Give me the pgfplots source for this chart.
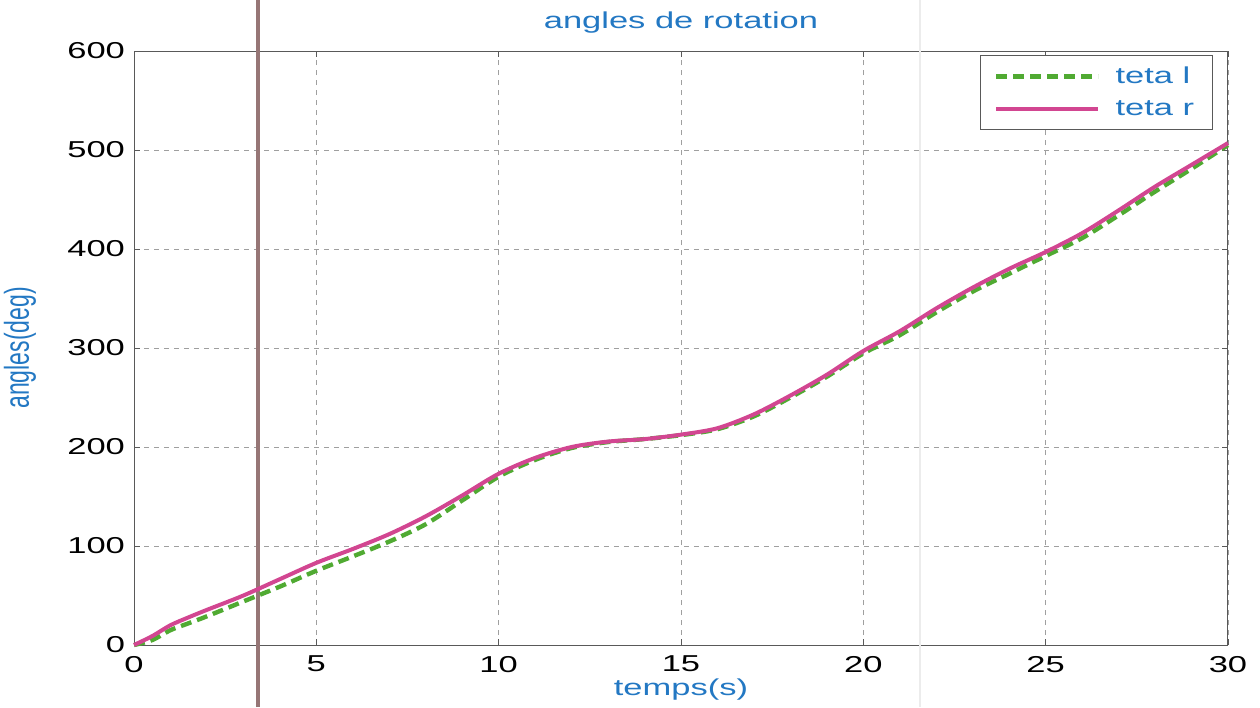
\documentclass[border=0pt]{standalone}
\usepackage{fontspec}
\setmainfont{Liberation Sans}
\usepackage{pgfplots}
\pgfplotsset{compat=1.18}
\definecolor{tblue}{RGB}{35,120,195}
\definecolor{tgreen}{RGB}{80,170,50}
\definecolor{tmag}{RGB}{210,70,145}
\definecolor{artbrown}{RGB}{150,118,118}
\newcommand{\sx}[1]{\scalebox{1.5}[1]{#1}}
\begin{document}
\begin{tikzpicture}
\begin{axis}[
  scale only axis, width=547pt, height=297pt,
  xmin=0, xmax=30, ymin=0, ymax=600,
  xtick={0,5,...,30}, ytick={0,100,...,600},
  grid=major,
  grid style={dash pattern=on 2.5pt off 2.5pt, gray!75, line width=0.4pt},
  axis line style={gray!70!black, line width=0.5pt},
  tick style={gray!70!black, line width=0.4pt},
  tick align=inside, major tick length=3pt,
  /pgf/number format/assume math mode=true,
  font=\fontsize{11.5}{13}\selectfont,
  xticklabel={\sx{\pgfmathprintnumber{\tick}}},
  yticklabel={\sx{\pgfmathprintnumber{\tick}}},
  xticklabel style={yshift=-2pt},
  yticklabel style={xshift=-1pt},
  title={\sx{angles de rotation}},
  title style={text=tblue, at={(0.5,1)}, anchor=base, yshift=5.5pt},
  xlabel={\sx{temps(s)}},
  xlabel style={text=tblue, at={(0.5,0)}, anchor=base, yshift=-25pt},
  ylabel={\scalebox{1}[1.5]{angles(deg)}},
  ylabel style={text=tblue, at={(rel axis cs:-0.1042,0.5)}, anchor=center},
  legend style={at={(0.986,0.993)}, anchor=north east, draw=gray!70!black,
    line width=0.4pt, text=tblue, inner xsep=7pt, inner ysep=3.5pt,
    font=\fontsize{11.5}{13}\selectfont, row sep=3pt,
    /tikz/every odd column/.append style={column sep=5.5pt}},
  legend cell align=left,
  legend image code/.code={\draw[#1] (0pt,0pt) -- (51pt,0pt);},
  clip=false,
]
\draw[artbrown, line width=1.8pt] (rel axis cs:0.1133,-0.1044) -- (rel axis cs:0.1133,1.0859);
\draw[gray!15, line width=0.6pt] (rel axis cs:0.7185,-0.1044) -- (rel axis cs:0.7185,1.0859);
\addplot[tgreen, line width=2.2pt, dash pattern=on 5.5pt off 3pt, smooth] coordinates {
(0,0) (0.5,5) (1,15) (1.5,22) (2,29) (3,44) (4,59) (5,75) (6,89.5) (7,104.5)
(8,122) (9,146) (10,170) (11,187) (12,199) (13,205) (14,208) (15,212) (16,218)
(17,231) (18,250) (19,271) (20,294.5) (21,313) (22,336) (23,357) (24,375)
(25,393) (26,411) (27,434) (28,458) (29,481) (30,505)};
\addlegendentry{\sx{teta l}}
\addplot[tmag, line width=2pt, smooth] coordinates {
(0,0) (0.5,9) (1,20) (1.5,28) (2,35.5) (3,50) (4,66.5) (5,83) (6,97) (7,112)
(8,130) (9,151) (10,173) (11,189) (12,200) (13,205.5) (14,208) (15,212.5)
(16,219) (17,233) (18,252) (19,273) (20,297) (21,317) (22,340) (23,361)
(24,380) (25,397) (26,416) (27,439) (28,463) (29,485) (30,507)};
\addlegendentry{\sx{teta r}}
\coordinate (BL) at (rel axis cs:-0.1225,-0.1044);
\coordinate (TR) at (rel axis cs:1.0293,1.0859);
\end{axis}
\pgfresetboundingbox
\useasboundingbox (BL) rectangle (TR);
\end{tikzpicture}
\end{document}
